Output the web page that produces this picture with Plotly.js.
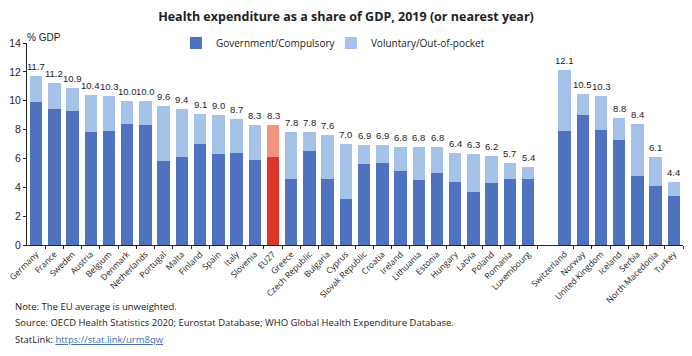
<!DOCTYPE html>
<html><head><meta charset="utf-8">
<script src="https://cdn.plot.ly/plotly-3.0.1.min.js"></script>
<style>html,body{margin:0;padding:0;background:#fff}#chart{width:692px;height:356px}</style>
</head><body><div id="chart"></div>
<script>
var euCountries = ["Germany","France","Sweden","Austria","Belgium","Denmark","Netherlands","Portugal","Malta","Finland","Spain","Italy","Slovenia","EU27","Greece","Czech Republic","Bulgaria","Cyprus","Slovak Republic","Croatia","Ireland","Lithuania","Estonia","Hungary","Latvia","Poland","Romania","Luxembourg"];
var euTotal = [11.7,11.2,10.9,10.4,10.3,10.0,10.0,9.6,9.4,9.1,9.0,8.7,8.3,8.3,7.8,7.8,7.6,7.0,6.9,6.9,6.8,6.8,6.8,6.4,6.3,6.2,5.7,5.4];
var euGov = [9.9,9.4,9.3,7.8,7.9,8.4,8.3,5.8,6.1,7.0,6.3,6.4,5.9,6.1,4.6,6.5,4.6,3.2,5.6,5.7,5.1,4.5,5.0,4.4,3.7,4.3,4.6,4.6];
var otherCountries = ["Switzerland","Norway","United Kingdom","Iceland","Serbia","North Macedonia","Turkey"];
var otherTotal = [12.1,10.5,10.3,8.8,8.4,6.1,4.4];
var otherGov = [7.9,9.0,8.0,7.3,4.8,4.1,3.4];
var yTicks = [0,2,4,6,8,10,12,14];

var cats = euCountries.concat(otherCountries);
var totals = euTotal.concat(otherTotal);
var gov = euGov.concat(otherGov);
var xs = cats.map(function(c,i){ return i < euCountries.length ? i : i+1; });
var vol = totals.map(function(t,i){ return Math.round((t-gov[i])*10)/10; });

var darkBlue = "#4f72be", lightBlue = "#a6c2e8", red = "#e2352a", salmon = "#f3937a";
var govColors = cats.map(function(c){ return c==="EU27" ? red : darkBlue; });
var volColors = cats.map(function(c){ return c==="EU27" ? salmon : lightBlue; });

var traces = [
  {type:"bar", name:"Government/Compulsory", x:xs, y:gov, marker:{color:govColors}, width:0.68, hoverinfo:"skip"},
  {type:"bar", name:"Voluntary/Out-of-pocket", x:xs, y:vol, marker:{color:volColors}, width:0.68, hoverinfo:"skip"}
];

var numFont = {family:"Liberation Sans Narrow, Arial Narrow, Liberation Sans, Arial", size:9.5, color:"#222"};
var annotations = totals.map(function(t,i){
  return {x:xs[i], y:t, xref:"x", yref:"y", text:t.toFixed(1), showarrow:false, yanchor:"bottom", yshift:2, font:numFont};
});
annotations.push({xref:"paper", yref:"paper", x:-0.003, y:1.0, xanchor:"left", yanchor:"bottom", yshift:-2, text:"% GDP", showarrow:false, font:{family:numFont.family, size:10, color:"#222"}});
var noteFont = {family:"Open Sans, Noto Sans", size:9.5, color:"#222"};
annotations.push({xref:"paper", yref:"paper", x:-14/656, y:-61/202, xanchor:"left", yanchor:"middle", text:"Note: The EU average is unweighted.", showarrow:false, font:noteFont});
annotations.push({xref:"paper", yref:"paper", x:-14/656, y:-77/202, xanchor:"left", yanchor:"middle", text:"Source: OECD Health Statistics 2020; Eurostat Database; WHO Global Health Expenditure Database.", showarrow:false, font:noteFont});
annotations.push({xref:"paper", yref:"paper", x:-14/656, y:-94/202, xanchor:"left", yanchor:"middle", text:"StatLink: <span style='color:#3b6fb6;text-decoration:underline'>https://stat.link/urm8qw</span>", showarrow:false, font:noteFont});

var layout = {
  width:692, height:356,
  margin:{l:27, r:9, t:43, b:111},
  paper_bgcolor:"#fff", plot_bgcolor:"#fff",
  barmode:"stack", bargap:0.3,
  showlegend:true,
  legend:{orientation:"h", x:0.227, y:1.0, xanchor:"left", yanchor:"middle", font:{family:"Open Sans, Noto Sans", size:10, color:"#222"}, traceorder:"normal", itemwidth:30, entrywidth:110, bgcolor:"rgba(0,0,0,0)"},
  title:{text:"<b>Health expenditure as a share of GDP, 2019 (or nearest year)</b>", x:0.5, xanchor:"center", y:0.952, yanchor:"middle", font:{family:"Open Sans, Noto Sans", size:12.5, color:"#222"}},
  xaxis:{range:[-0.5,35.5], tickmode:"array", tickvals:xs, ticktext:cats, tickangle:-45, ticks:"", showline:true, linecolor:"#222", linewidth:1, showgrid:false, zeroline:false,
    tickfont:{family:"Open Sans, Noto Sans", size:8.5, color:"#222"},
    minor:{tickmode:"array", tickvals:xs.map(function(x){return x+0.5;}), ticks:"outside", ticklen:3, tickcolor:"#222", showgrid:false}},
  yaxis:{range:[0,14], tickmode:"array", tickvals:yTicks, ticks:"outside", ticklen:3, tickcolor:"#222", showline:true, linecolor:"#222", linewidth:1, showgrid:false, zeroline:false,
    tickfont:{family:"Liberation Sans Narrow, Arial Narrow, Liberation Sans, Arial", size:10.5, color:"#222"}},
  annotations:annotations
};

Plotly.newPlot("chart", traces, layout, {displayModeBar:false, staticPlot:true});
</script>
</body></html>
